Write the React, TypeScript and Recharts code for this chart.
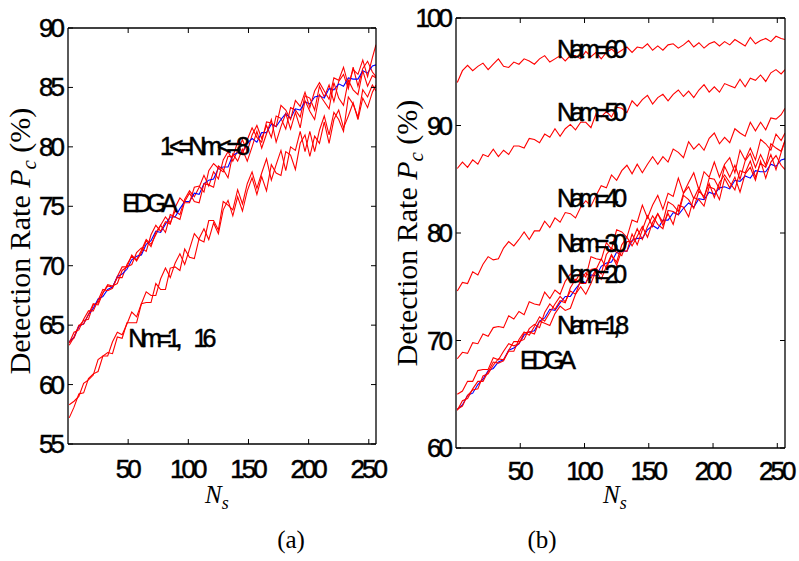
import React from "react";
import { LineChart, Line, XAxis, YAxis, ReferenceDot } from "recharts";

// N_s sample positions (every 4th run)
const NS = [
  1, 5, 9, 13, 17, 21, 25, 29, 33, 37,
  41, 45, 49, 53, 57, 61, 65, 69, 73, 77,
  81, 85, 89, 93, 97, 101, 105, 109, 113, 117,
  121, 125, 129, 133, 137, 141, 145, 149, 153, 157,
  161, 165, 169, 173, 177, 181, 185, 189, 193, 197,
  201, 205, 209, 213, 217, 221, 225, 229, 233, 237,
  241, 245, 249, 253, 256,
];

const X_TICKS = [50, 100, 150, 200, 250];
const Y_TICKS_A = [55, 60, 65, 70, 75, 80, 85, 90];
const Y_TICKS_B = [60, 70, 80, 90, 100];

// EDGA (blue), shared by both panels
const EDGA = [
  63.6, 64.0, 64.9, 65.1, 65.9, 66.4, 67.2, 67.4, 68.0, 68.2,
  69.1, 69.3, 69.7, 70.5, 70.8, 70.9, 71.8, 72.1, 72.9, 72.8,
  73.5, 74.1, 74.1, 74.8, 75.4, 75.4, 76.1, 76.0, 76.9, 77.2,
  77.3, 78.2, 78.3, 78.3, 79.3, 79.5, 79.5, 80.3, 80.7, 80.4,
  81.2, 81.2, 81.9, 81.7, 82.3, 82.8, 82.4, 83.2, 83.1, 83.8,
  83.6, 84.2, 84.3, 84.1, 84.9, 84.8, 85.3, 85.1, 85.8, 85.7,
  85.7, 86.4, 86.2, 86.8, 86.9,
];

// (a) 1 <= Nm <= 8
const NM_A = [
  63.5, 64.4, 64.6, 65.5, 66.2, 66.2, 67.1, 68.0, 67.9, 68.1,
  69.1, 69.9, 69.9, 70.1, 71.1, 71.5, 71.2, 72.6, 73.4, 72.9,
  73.7, 73.5, 74.9, 75.7, 75.3, 75.3, 76.6, 76.7, 76.2, 78.0,
  78.6, 78.2, 77.9, 79.2, 79.2, 80.4, 79.4, 80.6, 81.6, 80.8,
  80.4, 82.1, 82.0, 81.7, 83.5, 83.1, 82.3, 83.9, 83.4, 84.6,
  83.3, 84.7, 85.4, 84.7, 84.0, 85.8, 85.6, 86.7, 85.2, 86.5,
  86.1, 87.3, 85.9, 87.5, 88.6,
];
const NM_B = [
  63.3, 64.0, 65.0, 65.1, 65.9, 66.8, 66.7, 67.7, 68.4, 68.3,
  68.5, 69.6, 69.9, 70.9, 70.4, 71.1, 72.1, 71.6, 72.8, 73.4,
  72.8, 74.3, 74.1, 73.9, 75.4, 76.1, 75.4, 75.3, 76.9, 76.8,
  76.6, 78.4, 78.1, 77.4, 79.4, 78.8, 79.8, 78.8, 80.0, 81.3,
  79.9, 81.1, 82.3, 80.4, 81.7, 82.8, 81.5, 82.9, 81.6, 83.9,
  83.0, 82.3, 84.4, 83.8, 83.2, 85.4, 84.1, 83.5, 85.6, 84.8,
  84.4, 86.4, 85.1, 86.0, 85.8,
];
const NM_C = [
  63.6, 63.9, 64.9, 65.4, 65.5, 66.7, 66.9, 67.7, 68.3, 68.2,
  69.0, 69.0, 70.1, 70.8, 70.5, 71.3, 72.2, 71.8, 72.6, 73.4,
  74.1, 73.6, 74.6, 74.3, 75.6, 76.3, 75.8, 76.6, 77.6, 76.7,
  77.9, 77.3, 78.9, 79.6, 78.8, 79.7, 80.6, 79.6, 81.0, 81.8,
  80.7, 81.8, 80.8, 82.6, 82.4, 81.5, 83.3, 83.1, 82.5, 84.3,
  84.1, 83.1, 85.1, 84.2, 85.2, 83.8, 85.5, 86.1, 84.9, 86.7,
  85.1, 86.6, 87.2, 86.3, 85.9,
];

// (a) Nm = 1, 16
const NM_1 = [
  58.3, 58.6, 59.0, 60.1, 60.4, 60.8, 62.1, 62.4, 62.4, 63.6,
  64.4, 64.2, 65.1, 66.1, 65.7, 66.8, 67.8, 67.5, 67.5, 68.9,
  69.8, 69.0, 70.2, 71.0, 70.1, 71.4, 72.7, 72.2, 72.0, 73.8,
  73.8, 73.0, 75.4, 75.1, 74.7, 76.4, 75.2, 76.9, 77.9, 76.5,
  77.8, 79.0, 77.2, 78.5, 79.7, 78.0, 80.0, 79.7, 81.3, 79.6,
  81.3, 79.6, 81.4, 82.6, 81.0, 82.9, 82.3, 81.3, 84.2, 83.6,
  82.5, 84.8, 84.2, 85.2, 84.7,
];
const NM_16 = [
  57.2, 58.1, 59.2, 59.3, 60.5, 60.9, 61.1, 62.4, 62.7, 62.6,
  64.0, 63.9, 65.2, 65.2, 65.2, 66.8, 66.9, 66.9, 68.5, 68.0,
  68.0, 69.8, 69.9, 69.6, 71.4, 70.7, 70.6, 72.3, 73.1, 72.2,
  73.6, 72.7, 74.7, 75.5, 74.2, 75.8, 74.6, 76.3, 77.4, 76.0,
  77.5, 76.3, 78.5, 77.8, 77.6, 79.6, 79.3, 78.1, 80.3, 81.0,
  79.2, 80.9, 80.3, 82.1, 80.3, 82.3, 83.1, 81.6, 82.6, 83.7,
  82.3, 84.1, 83.3, 84.6, 85.2,
];

// (b) Nam series
const NAM60 = [
  94.0, 95.1, 95.6, 95.1, 95.5, 95.8, 95.2, 95.7, 96.2, 95.5,
  95.4, 95.9, 95.7, 96.2, 96.0, 95.7, 96.2, 96.5, 95.9, 96.2,
  96.5, 96.0, 96.5, 96.5, 96.2, 96.9, 96.4, 96.8, 96.2, 96.8,
  97.1, 96.7, 97.0, 97.3, 96.8, 97.3, 97.2, 97.6, 97.0, 97.4,
  97.0, 97.5, 97.6, 97.2, 97.5, 97.9, 97.3, 97.7, 97.2, 97.6,
  97.8, 97.4, 97.8, 97.5, 98.0, 97.7, 97.4, 98.2, 97.6, 97.9,
  98.1, 97.8, 98.3, 98.1, 98.0,
];
const NAM50 = [
  86.0, 86.6, 86.1, 86.8, 86.4, 87.3, 87.1, 87.8, 87.1, 87.7,
  87.3, 88.1, 88.1, 87.9, 88.8, 88.7, 88.4, 89.2, 88.9, 89.7,
  89.0, 89.7, 90.1, 89.6, 90.3, 90.3, 89.8, 91.1, 90.8, 91.3,
  90.8, 91.7, 91.6, 91.2, 92.3, 91.8, 92.4, 92.8, 92.0, 92.6,
  92.9, 92.3, 92.9, 93.3, 92.7, 93.2, 92.6, 93.3, 93.8, 93.1,
  93.6, 93.1, 93.9, 93.7, 93.5, 94.3, 93.6, 94.4, 94.2, 94.7,
  94.1, 94.9, 95.2, 94.8, 95.2,
];
const NAM40 = [
  74.6, 75.4, 75.3, 76.4, 76.1, 77.1, 77.8, 77.5, 77.6, 78.6,
  79.2, 78.8, 79.4, 80.1, 79.4, 80.2, 80.2, 81.1, 80.5, 81.4,
  81.0, 81.9, 81.8, 81.4, 82.4, 83.0, 82.5, 83.5, 84.4, 84.2,
  85.4, 84.9, 85.8, 86.3, 85.5, 86.4, 85.6, 86.4, 87.1, 86.4,
  87.1, 86.6, 87.8, 87.5, 87.0, 88.5, 87.8, 88.3, 87.7, 88.8,
  89.3, 88.3, 88.9, 88.4, 89.7, 89.3, 89.0, 90.3, 89.5, 90.3,
  89.6, 90.7, 90.6, 91.0, 91.6,
];
const NAM30 = [
  68.3, 68.9, 68.8, 69.8, 69.7, 70.6, 70.4, 71.2, 71.3, 71.2,
  72.3, 72.0, 72.7, 72.4, 73.6, 73.4, 73.3, 74.5, 73.9, 74.7,
  74.3, 75.5, 76.2, 75.5, 76.4, 75.9, 77.8, 77.6, 77.5, 79.1,
  78.5, 80.3, 80.1, 79.6, 81.2, 81.0, 82.6, 81.4, 82.6, 83.5,
  82.2, 83.7, 83.4, 85.1, 83.7, 84.7, 85.6, 84.0, 85.7, 85.2,
  86.6, 85.2, 86.4, 87.0, 85.6, 87.7, 86.8, 87.9, 86.8, 88.7,
  88.3, 87.7, 89.2, 88.6, 89.3,
];
const NAM20 = [
  65.0, 65.3, 66.2, 66.2, 67.2, 67.3, 67.3, 68.4, 68.2, 69.0,
  69.7, 69.5, 69.7, 70.7, 70.8, 70.6, 71.8, 71.6, 71.4, 72.5,
  73.2, 72.8, 73.0, 74.3, 75.0, 74.3, 75.3, 76.5, 75.7, 76.9,
  78.0, 77.0, 78.4, 78.3, 79.9, 78.9, 80.3, 81.6, 80.6, 81.8,
  81.0, 82.9, 82.6, 82.0, 83.7, 84.3, 83.2, 84.2, 83.2, 85.1,
  85.0, 84.1, 86.2, 85.2, 86.3, 85.0, 86.7, 87.4, 86.1, 87.3,
  86.3, 88.3, 87.9, 87.6, 88.6,
];
const NAM1 = NM_C;
const NAM8 = NM_A;

// text notes: [N_s, value, text]
const NOTES_A: [number, number, string][] = [
  [76.5, 80.1, "1<=Nm<=8"],
  [45, 75.3, "EDGA"],
  [50, 63.9, "Nm=1,  16"],
];
const NOTES_B: [number, number, string][] = [
  [78.6, 97.1, "Nam=60"],
  [78.6, 91.3, "Nam=50"],
  [78.6, 83.3, "Nam=40"],
  [78.6, 79.1, "Nam=30"],
  [78.6, 76.2, "Nam=20"],
  [78.6, 71.4, "Nam=1,8"],
  [49.8, 68.2, "EDGA"],
];

const RED = "#ff0000";
const BLUE = "#0000ff";
const SANS = "'Liberation Sans', Arial, Helvetica, sans-serif";
const SERIF = "'Liberation Serif', 'Times New Roman', Times, serif";

const rowsA = NS.map((n, i) => ({
  n,
  edga: EDGA[i],
  a: NM_A[i],
  b: NM_B[i],
  c: NM_C[i],
  m1: NM_1[i],
  m16: NM_16[i],
}));

const rowsB = NS.map((n, i) => ({
  n,
  edga: EDGA[i],
  n60: NAM60[i],
  n50: NAM50[i],
  n40: NAM40[i],
  n30: NAM30[i],
  n20: NAM20[i],
  n1: NAM1[i],
  n8: NAM8[i],
}));

// the original's sans text is heavy and squeezed
const sansText = {
  fill: "#000",
  stroke: "#000",
  strokeWidth: 0.5,
  fontFamily: SANS,
};

function YTick(props: any) {
  const { x, y, payload } = props;
  return (
    <text x={x} y={y} textAnchor="end" dominantBaseline="central" {...sansText}
      fontSize={26} style={{ letterSpacing: "-3px" }}>
      {payload.value}
    </text>
  );
}

function XTick(props: any) {
  const { x, y, payload } = props;
  return (
    <text x={x - 1} y={y} textAnchor="middle" dominantBaseline="central" {...sansText}
      fontSize={26} style={{ letterSpacing: "-3px" }}>
      {payload.value}
    </text>
  );
}

// keeps the tick lines of the mirrored axes, without labels
function NoTick() {
  return <g />;
}

function noteShape(text: string) {
  const [head, tail] = text.split("  ");
  return (p: any) => (
    <text x={p.cx} y={p.cy} dominantBaseline="central" {...sansText}
      fontSize={25} style={{ letterSpacing: "-5px" }}>
      {head}
      {tail ? <tspan dx={16}>{tail}</tspan> : null}
    </text>
  );
}

const axisStroke = { stroke: "#000", strokeWidth: 1.3 };
const tickStroke = { stroke: "#000", strokeWidth: 1 };

function axes(yDomain: number[], yTicks: number[], xTickMargin: number) {
  return [
    <XAxis key="xb" xAxisId="b" dataKey="n" type="number" domain={[0, 256]} ticks={X_TICKS}
      allowDataOverflow height={1} tickSize={-5} tickMargin={xTickMargin} stroke="#000"
      axisLine={axisStroke} tickLine={tickStroke} tick={<XTick />} interval={0} />,
    <XAxis key="xt" xAxisId="t" dataKey="n" type="number" orientation="top" domain={[0, 256]}
      ticks={X_TICKS} allowDataOverflow height={1} tickSize={-5} stroke="#000"
      axisLine={axisStroke} tickLine={tickStroke} tick={<NoTick />} interval={0} />,
    <YAxis key="yl" yAxisId="l" type="number" domain={yDomain} ticks={yTicks} allowDataOverflow
      width={1} tickSize={-5} tickMargin={11} stroke="#000" axisLine={axisStroke}
      tickLine={tickStroke} tick={<YTick />} interval={0} />,
    <YAxis key="yr" yAxisId="r" type="number" orientation="right" domain={yDomain} ticks={yTicks}
      allowDataOverflow width={1} tickSize={-5} stroke="#000" axisLine={axisStroke}
      tickLine={tickStroke} tick={<NoTick />} interval={0} />,
  ];
}

function series(key: string, color: string) {
  return (
    <Line key={key} xAxisId="b" yAxisId="l" type="linear" dataKey={key} stroke={color}
      strokeWidth={1.1} dot={false} activeDot={false} isAnimationActive={false} />
  );
}

function notes(list: [number, number, string][]) {
  return list.map(([x, y, t]) => (
    <ReferenceDot key={t + x} xAxisId="b" yAxisId="l" x={x} y={y} r={0}
      shape={noteShape(t)} />
  ));
}

export default function App() {
  return (
    <div style={{ position: "absolute", left: 0, top: 0, width: 799, height: 561, background: "#fff" }}>
      <div style={{ position: "absolute", left: 0, top: 0 }}>
        <LineChart width={400} height={561} data={rowsA}
          margin={{ top: 27, right: 23, bottom: 116, left: 67 }}>
          {axes([55, 90], Y_TICKS_A, 30)}
          {series("m16", RED)}
          {series("m1", RED)}
          {series("c", RED)}
          {series("edga", BLUE)}
          {series("a", RED)}
          {series("b", RED)}
          {notes(NOTES_A)}
        </LineChart>
      </div>
      <div style={{ position: "absolute", left: 400, top: 0 }}>
        <LineChart width={399} height={561} data={rowsB}
          margin={{ top: 17, right: 13, bottom: 112, left: 55 }}>
          {axes([60, 100], Y_TICKS_B, 28)}
          {series("n60", RED)}
          {series("n50", RED)}
          {series("n40", RED)}
          {series("edga", BLUE)}
          {series("n30", RED)}
          {series("n20", RED)}
          {series("n1", RED)}
          {series("n8", RED)}
          {notes(NOTES_B)}
        </LineChart>
      </div>
      <svg width={799} height={561} style={{ position: "absolute", left: 0, top: 0, pointerEvents: "none" }}>
        <g fontFamily={SERIF} fill="#000">
          <text transform="translate(30,241) rotate(-90)" textAnchor="middle" fontSize={30}>
            Detection Rate <tspan fontStyle="italic">P</tspan>
            <tspan fontStyle="italic" fontSize={21} dy={6}>c</tspan>
            <tspan dy={-6}> (%)</tspan>
          </text>
          <text transform="translate(417,233) rotate(-90)" textAnchor="middle" fontSize={30}>
            Detection Rate <tspan fontStyle="italic">P</tspan>
            <tspan fontStyle="italic" fontSize={21} dy={6}>c</tspan>
            <tspan dy={-6}> (%)</tspan>
          </text>
          <text x={205} y={503} fontSize={25} fontStyle="italic">
            N<tspan fontSize={18} dy={6}>s</tspan>
          </text>
          <text x={603} y={503} fontSize={25} fontStyle="italic">
            N<tspan fontSize={18} dy={6}>s</tspan>
          </text>
          <text x={291} y={548} fontSize={25} textAnchor="middle">(a)</text>
          <text x={542} y={548} fontSize={25} textAnchor="middle">(b)</text>
        </g>
      </svg>
    </div>
  );
}
